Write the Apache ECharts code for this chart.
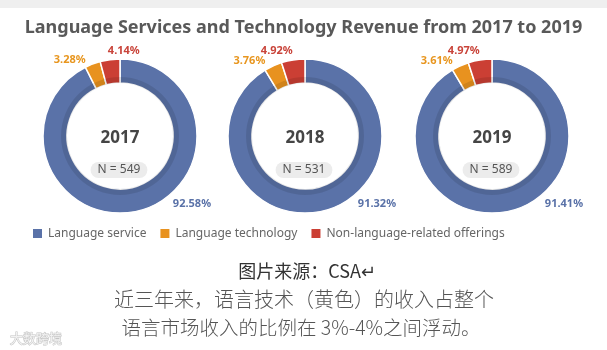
<!DOCTYPE html>
<html>
<head>
<meta charset="utf-8">
<script src="https://cdn.jsdelivr.net/npm/echarts@6/dist/echarts.min.js"></script>
<style>
html, body { margin: 0; padding: 0; background: #fff; }
#main { width: 607px; height: 350px; }
</style>
</head>
<body>
<div id="main"></div>
<script>
// data
var years = ['2017', '2018', '2019'];
var sampleSizes = [549, 531, 589];
var categories = ['Language service', 'Language technology', 'Non-language-related offerings'];
var serviceShare = [92.58, 91.32, 91.41];
var technologyShare = [3.28, 3.76, 3.61];
var otherShare = [4.14, 4.92, 4.97];

var colors = ['#5a72a8', '#e8921f', '#cb3f34'];
var labelColors = ['#5a72a8', '#e8961f', '#c9443a'];

// layout
var cx = [120, 305, 492];
var cy = 136;
var rIn = 53, rOut = 77;
var redShift = [32, 0, 0];

var myChart = echarts.init(document.getElementById('main'));

function sliceLabel(params) {
    var r = params.rect;
    if (params.dataIndex === 0) {
        return { x: r.x + r.width * 0.84, y: r.y + r.height * 0.935, align: 'left', verticalAlign: 'middle' };
    }
    if (params.dataIndex === 1) {
        return { x: r.x + 1, y: r.y - 1, align: 'right', verticalAlign: 'middle' };
    }
    return { x: r.x + r.width - 13 + redShift[params.seriesIndex], y: r.y - 7, align: 'right', verticalAlign: 'middle' };
}

var series = [];
years.forEach(function (y, i) {
    var vals = [serviceShare[i], technologyShare[i], otherShare[i]];
    series.push({
        type: 'pie',
        name: y,
        center: [cx[i], cy],
        radius: [rIn, rOut],
        startAngle: 90,
        clockwise: true,
        avoidLabelOverlap: false,
        animation: false,
        emphasis: { disabled: true },
        itemStyle: { borderColor: '#fff', borderWidth: 1.5 },
        label: {
            show: true,
            position: 'outside',
            fontFamily: 'Noto Sans',
            fontSize: 11,
            fontWeight: 'bold',
            formatter: function (p) { return p.value.toFixed(2) + '%'; }
        },
        labelLine: { show: false },
        labelLayout: sliceLabel,
        data: vals.map(function (v, k) {
            return {
                name: categories[k],
                value: v,
                itemStyle: { color: colors[k] },
                label: { color: labelColors[k] }
            };
        })
    });
});
// darker inner edge of every ring
years.forEach(function (y, i) {
    series.push({
        type: 'pie',
        center: [cx[i], cy],
        radius: [rIn, rIn + 6],
        silent: true,
        animation: false,
        label: { show: false },
        labelLine: { show: false },
        data: [{ value: 1, itemStyle: { color: 'rgba(0,0,0,0.1)' } }]
    });
});

var graphics = [
    { type: 'rect', shape: { x: 0, y: 0, width: 607, height: 8 }, style: { fill: '#efefef' } }
];
years.forEach(function (y, i) {
    graphics.push({
        type: 'text', x: cx[i], y: cy + 2, z: 10,
        style: { text: y, fontFamily: 'Noto Sans', fontSize: 17, fontWeight: 'bold', fill: '#454545', align: 'center', verticalAlign: 'middle' }
    });
    graphics.push({
        type: 'text', x: cx[i] - 1, y: cy + 34, z: 10,
        style: {
            text: 'N = ' + sampleSizes[i], fontFamily: 'Noto Sans', fontSize: 12, fill: '#555',
            align: 'center', verticalAlign: 'middle',
            backgroundColor: '#ececec', padding: [2, 7, 2, 7], borderRadius: 8
        }
    });
});
graphics.push({
    type: 'text', x: 307, y: 271,
    style: { text: '图片来源：CSA↵', fontFamily: 'Noto Sans CJK SC', fontSize: 18, fill: '#333', align: 'center', verticalAlign: 'middle' }
});
graphics.push({
    type: 'text', x: 304, y: 299,
    style: { text: '近三年来，语言技术（黄色）的收入占整个', fontFamily: 'Noto Sans CJK SC', fontWeight: 300, fontSize: 20, fill: '#555', align: 'center', verticalAlign: 'middle' }
});
graphics.push({
    type: 'text', x: 301, y: 328,
    style: { text: '语言市场收入的比例在 3%-4%之间浮动。', fontFamily: 'Noto Sans CJK SC', fontWeight: 300, fontSize: 19.5, fill: '#555', align: 'center', verticalAlign: 'middle' }
});
graphics.push({
    type: 'text', x: 10, y: 338,
    style: { text: '大数跨境', fontFamily: 'Noto Sans CJK SC', fontSize: 13, fill: '#f2f2f2', stroke: '#c4c4c4', lineWidth: 1, align: 'left', verticalAlign: 'middle' }
});

myChart.setOption({
    backgroundColor: '#fff',
    title: {
        text: 'Language Services and Technology Revenue from 2017 to 2019',
        left: 'center',
        top: 14,
        textStyle: { fontFamily: 'Noto Sans', fontSize: 18, fontWeight: 'bold', color: '#595959' }
    },
    legend: {
        data: categories,
        left: 26,
        top: 222,
        icon: 'rect',
        itemWidth: 11,
        itemHeight: 11,
        itemGap: 12,
        textStyle: { fontFamily: 'Noto Sans', fontSize: 12, color: '#666' }
    },
    graphic: graphics,
    series: series
});
</script>
</body>
</html>
